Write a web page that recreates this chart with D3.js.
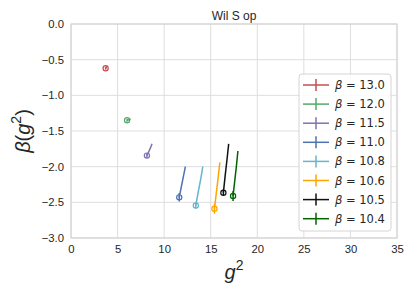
<!DOCTYPE html>
<html>
<head>
<meta charset="utf-8">
<script src="https://cdn.jsdelivr.net/npm/d3@7"></script>
<style>
  body { margin: 0; background: #fff; }
  text { font-family: "Liberation Sans", Arial, sans-serif; }
</style>
</head>
<body>
<div id="chart"></div>
<script>
var width = 415;
var height = 297;
var margin = {left: 71, right: 18, top: 24, bottom: 59};

// legend labels / colours
var betas = ['13.0', '12.0', '11.5', '11.0', '10.8', '10.6', '10.5', '10.4'];
var colors = ['#c44e52', '#55a868', '#8172b2', '#4c72b0', '#64b5cd', '#ffa500', '#111111', '#006400'];

// g^2 and beta(g^2) per series, first point carries the marker
var g2_130 = [3.72, 3.76, 3.80, 3.84];
var b_130 = [-0.62, -0.615, -0.605, -0.595];
var g2_120 = [6.02, 6.15, 6.28, 6.40];
var b_120 = [-1.35, -1.345, -1.34, -1.33];
var g2_115 = [8.15, 8.35, 8.55, 8.70];
var b_115 = [-1.845, -1.79, -1.73, -1.68];
var g2_110 = [11.62, 11.85, 12.08, 12.28];
var b_110 = [-2.43, -2.28, -2.13, -2.00];
var g2_108 = [13.40, 13.65, 13.92, 14.15];
var b_108 = [-2.545, -2.36, -2.18, -2.00];
var g2_106 = [15.40, 15.60, 15.80, 15.98];
var b_106 = [-2.59, -2.37, -2.15, -1.94];
var g2_105 = [16.36, 16.55, 16.75, 16.93];
var b_105 = [-2.365, -2.13, -1.90, -1.68];
var g2_104 = [17.40, 17.58, 17.76, 17.92];
var b_104 = [-2.41, -2.20, -1.99, -1.78];
// error on first point
var errs = [0.02, 0.02, 0.03, 0.06, 0.04, 0.07, 0.04, 0.07];

var xs = [g2_130, g2_120, g2_115, g2_110, g2_108, g2_106, g2_105, g2_104];
var ys = [b_130, b_120, b_115, b_110, b_108, b_106, b_105, b_104];

var xTicks = [0, 5, 10, 15, 20, 25, 30, 35];
var yTicks = [0, -0.5, -1, -1.5, -2, -2.5, -3];

var series = betas.map(function (b, i) {
    return {beta: b, color: colors[i], err: errs[i],
        pts: xs[i].map(function (x, j) { return {x: x, y: ys[i][j]}; })};
});

var svg = d3.select('#chart').append('svg')
    .attr('width', width)
    .attr('height', height);

var x = d3.scaleLinear().domain([0, 35]).range([margin.left, width - margin.right]);
var y = d3.scaleLinear().domain([-3, 0]).range([height - margin.bottom, margin.top]);

// grid
svg.append('g').selectAll('line').data(xTicks).enter().append('line')
    .attr('x1', function (d) { return x(d); })
    .attr('x2', function (d) { return x(d); })
    .attr('y1', y(-3)).attr('y2', y(0))
    .attr('stroke', '#dedede').attr('stroke-width', 1);
svg.append('g').selectAll('line').data(yTicks).enter().append('line')
    .attr('y1', function (d) { return y(d); })
    .attr('y2', function (d) { return y(d); })
    .attr('x1', x(0)).attr('x2', x(35))
    .attr('stroke', '#dedede').attr('stroke-width', 1);

// frame
svg.append('rect')
    .attr('x', x(0)).attr('y', y(0))
    .attr('width', x(35) - x(0)).attr('height', y(-3) - y(0))
    .attr('fill', 'none').attr('stroke', '#cfcfcf').attr('stroke-width', 1);

// axes
var xAxis = svg.append('g')
    .attr('transform', 'translate(0,' + y(-3) + ')')
    .call(d3.axisBottom(x).tickValues(xTicks).tickSize(0).tickPadding(7).tickFormat(d3.format('d')));
var yAxis = svg.append('g')
    .attr('transform', 'translate(' + x(0) + ',0)')
    .call(d3.axisLeft(y).tickValues(yTicks).tickSize(0).tickPadding(7)
        .tickFormat(function (d) { return d3.format('.1f')(d).replace('-', '\u2212'); }));
[xAxis, yAxis].forEach(function (a) {
    a.select('.domain').remove();
    a.selectAll('text')
        .attr('font-family', '"Liberation Sans", Arial, sans-serif')
        .attr('font-size', 11.3)
        .attr('fill', '#262626');
});

// series
var line = d3.line().x(function (d) { return x(d.x); }).y(function (d) { return y(d.y); });
var g = svg.append('g').selectAll('g').data(series).enter().append('g');
g.append('path')
    .attr('d', function (d) { return line(d.pts); })
    .attr('fill', 'none')
    .attr('stroke', function (d) { return d.color; })
    .attr('stroke-width', 1.5);
g.append('line')
    .attr('x1', function (d) { return x(d.pts[0].x); })
    .attr('x2', function (d) { return x(d.pts[0].x); })
    .attr('y1', function (d) { return y(d.pts[0].y - d.err); })
    .attr('y2', function (d) { return y(d.pts[0].y + d.err); })
    .attr('stroke', function (d) { return d.color; })
    .attr('stroke-width', 1.5);
g.append('circle')
    .attr('cx', function (d) { return x(d.pts[0].x); })
    .attr('cy', function (d) { return y(d.pts[0].y); })
    .attr('r', 2.6)
    .attr('fill', 'none')
    .attr('stroke', function (d) { return d.color; })
    .attr('stroke-width', 1.2);

// title and labels
svg.append('text')
    .attr('x', (x(0) + x(35)) / 2).attr('y', 20)
    .attr('text-anchor', 'middle')
    .attr('font-size', 12).attr('fill', '#262626')
    .text('Wil S op');

var xl = svg.append('text')
    .attr('x', (x(0) + x(35)) / 2).attr('y', 279)
    .attr('text-anchor', 'middle')
    .attr('font-family', '"DejaVu Sans", sans-serif')
    .attr('font-size', 20).attr('fill', '#262626');
xl.append('tspan').attr('font-style', 'italic').text('g');
xl.append('tspan').attr('font-size', 14).attr('dy', -9).text('2');

var yl = svg.append('text')
    .attr('transform', 'translate(30,' + ((y(0) + y(-3)) / 2) + ') rotate(-90)')
    .attr('text-anchor', 'middle')
    .attr('font-family', '"DejaVu Sans", sans-serif')
    .attr('font-size', 20).attr('fill', '#262626');
yl.append('tspan').attr('font-style', 'italic').text('\u03b2');
yl.append('tspan').text('(');
yl.append('tspan').attr('font-style', 'italic').text('g');
yl.append('tspan').attr('font-size', 14).attr('dy', -9).text('2');
yl.append('tspan').attr('dy', 9).text(')');

// legend
var lg = svg.append('g').attr('transform', 'translate(299,74)');
lg.append('rect')
    .attr('width', 92).attr('height', 157)
    .attr('rx', 3)
    .attr('fill', '#fff').attr('fill-opacity', 0.85)
    .attr('stroke', '#d4d4d4');
var item = lg.selectAll('.item').data(series).enter().append('g')
    .attr('transform', function (d, i) { return 'translate(0,' + (11 + i * 19.1) + ')'; });
item.append('line')
    .attr('x1', 4).attr('x2', 30)
    .attr('stroke', function (d) { return d.color; }).attr('stroke-width', 1.5);
item.append('line')
    .attr('x1', 17).attr('x2', 17).attr('y1', -6).attr('y2', 6)
    .attr('stroke', function (d) { return d.color; }).attr('stroke-width', 1.5);
var lt = item.append('text')
    .attr('x', 36).attr('y', 4)
    .attr('font-size', 11.5).attr('fill', '#262626');
lt.append('tspan').attr('font-family', '"DejaVu Sans", sans-serif').attr('font-style', 'italic').text('\u03b2');
lt.append('tspan').attr('font-family', '"DejaVu Sans", sans-serif').text(function (d) { return ' = ' + d.beta; });
</script>
</body>
</html>
